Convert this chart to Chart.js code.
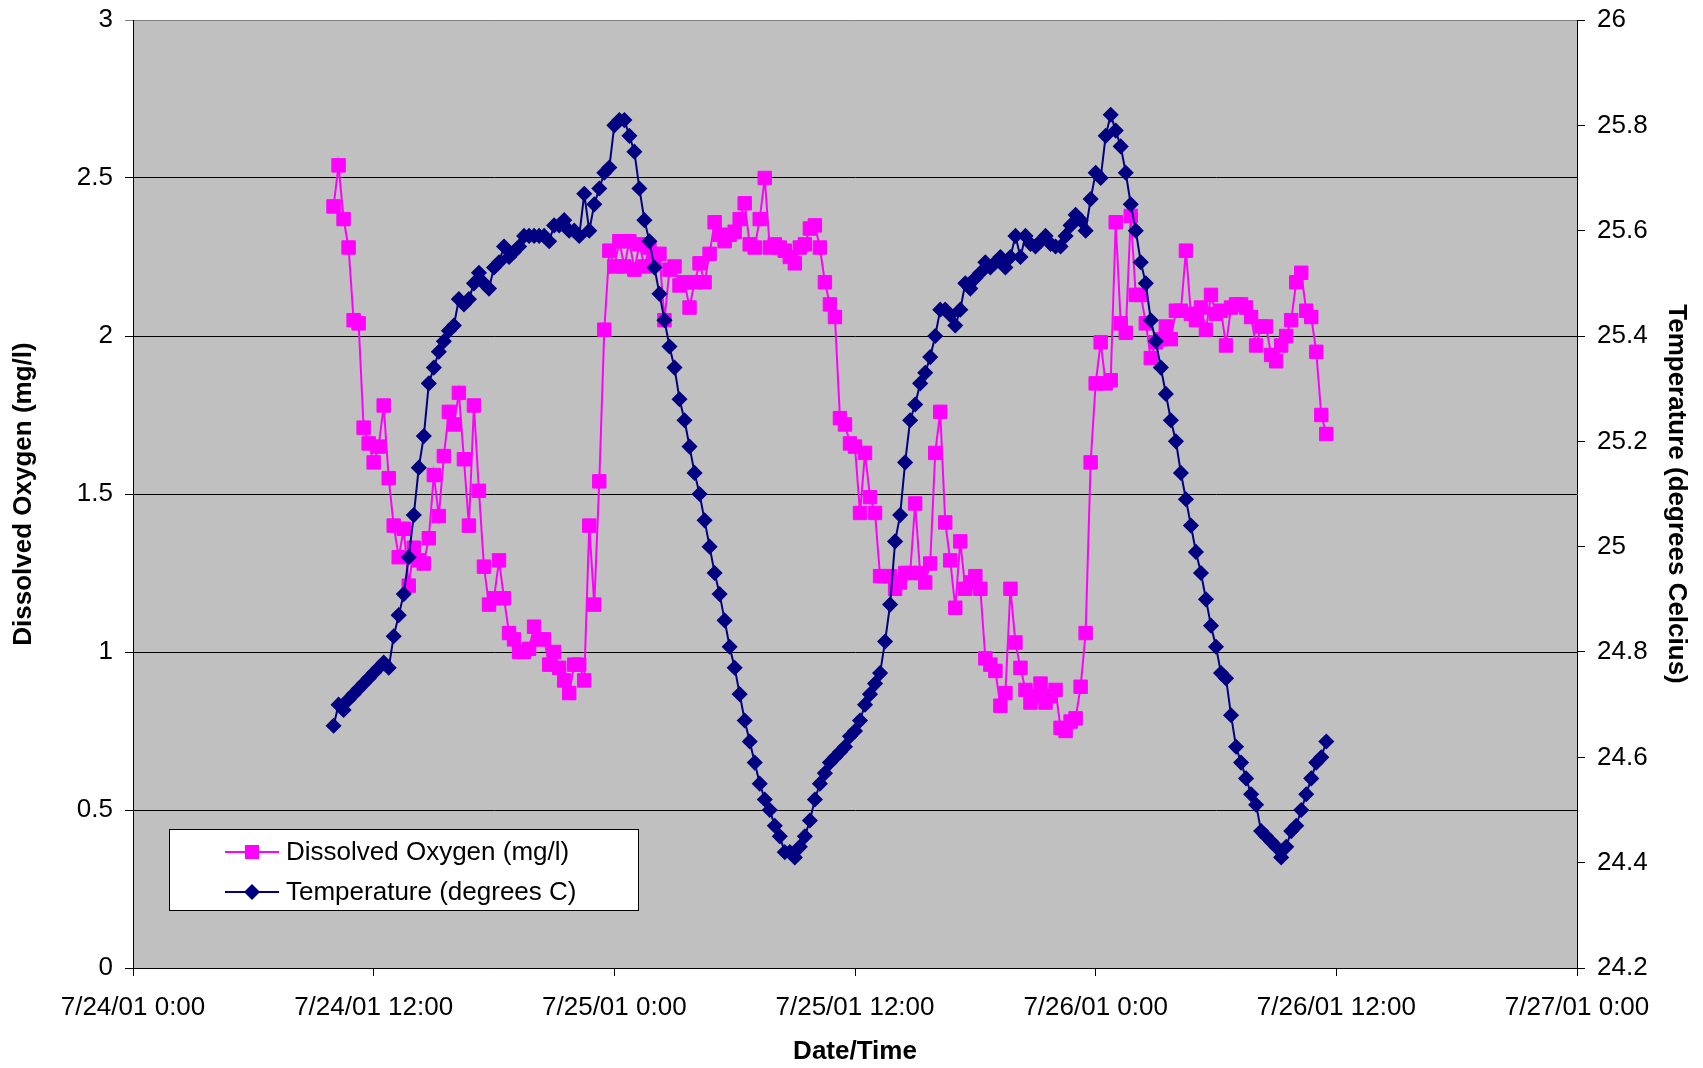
<!DOCTYPE html>
<html>
<head>
<meta charset="utf-8">
<title>Dissolved Oxygen and Temperature</title>
<script src="https://cdn.jsdelivr.net/npm/chart.js@4/dist/chart.umd.min.js"></script>
<style>
  html, body { margin: 0; padding: 0; background: #ffffff; }
  canvas { display: block; }
</style>
</head>
<body>
<canvas id="chart" width="1703" height="1068"></canvas>
<script>
// Logger readings: first reading 7/24/01 10:00, one reading every 15 minutes.
const firstReadingHour = 10;          // hours after 7/24/01 0:00
const readingStepHours = 0.25;

// Axis ticks
const xTickHours  = [0, 12, 24, 36, 48, 60, 72];
const xTickLabels = ['7/24/01 0:00', '7/24/01 12:00', '7/25/01 0:00', '7/25/01 12:00',
                     '7/26/01 0:00', '7/26/01 12:00', '7/27/01 0:00'];
const oxygenTicks      = [0, 0.5, 1, 1.5, 2, 2.5, 3];
const temperatureTicks = [24.2, 24.4, 24.6, 24.8, 25, 25.2, 25.4, 25.6, 25.8, 26];

// Dissolved oxygen (mg/l)
const dissolvedOxygen = [
  2.41, 2.54, 2.37, 2.28, 2.05, 2.04, 1.71, 1.66, 1.60, 1.65,
  1.78, 1.55, 1.40, 1.30, 1.39, 1.21, 1.33, 1.29, 1.28, 1.36,
  1.56, 1.43, 1.62, 1.76, 1.72, 1.82, 1.61, 1.40, 1.78, 1.51,
  1.27, 1.15, 1.17, 1.29, 1.17, 1.06, 1.04, 1.00, 1.00, 1.01,
  1.08, 1.04, 1.04, 0.96, 1.00, 0.95, 0.91, 0.87, 0.96, 0.96,
  0.91, 1.40, 1.15, 1.54, 2.02, 2.27, 2.22, 2.30, 2.22, 2.30,
  2.21, 2.29, 2.22, 2.28, 2.24, 2.26, 2.05, 2.21, 2.22, 2.16,
  2.17, 2.09, 2.17, 2.23, 2.17, 2.26, 2.36, 2.32, 2.30, 2.32,
  2.33, 2.37, 2.42, 2.29, 2.28, 2.37, 2.50, 2.28, 2.29, 2.28,
  2.27, 2.25, 2.23, 2.28, 2.29, 2.34, 2.35, 2.28, 2.17, 2.10,
  2.06, 1.74, 1.72, 1.66, 1.65, 1.44, 1.63, 1.49, 1.44, 1.24,
  1.24, 1.24, 1.20, 1.22, 1.25, 1.25, 1.47, 1.25, 1.22, 1.28,
  1.63, 1.76, 1.41, 1.29, 1.14, 1.35, 1.20, 1.22, 1.24, 1.20,
  0.98, 0.96, 0.94, 0.83, 0.87, 1.20, 1.03, 0.95, 0.88, 0.84,
  0.86, 0.90, 0.84, 0.86, 0.88, 0.76, 0.75, 0.78, 0.79, 0.89,
  1.06, 1.60, 1.85, 1.98, 1.85, 1.86, 2.36, 2.04, 2.01, 2.38,
  2.13, 2.13, 2.04, 1.93, 1.98, 1.99, 2.03, 1.99, 2.08, 2.08,
  2.27, 2.07, 2.05, 2.09, 2.02, 2.13, 2.07, 2.08, 1.97, 2.09,
  2.10, 2.10, 2.09, 2.06, 1.97, 2.03, 2.03, 1.94, 1.92, 1.97,
  2.00, 2.05, 2.17, 2.20, 2.08, 2.06, 1.95, 1.75, 1.69
];

// Water temperature (degrees C)
const temperature = [
  24.66, 24.70, 24.69, 24.71, 24.72, 24.73, 24.74, 24.75, 24.76, 24.77,
  24.78, 24.77, 24.83, 24.87, 24.91, 24.98, 25.06, 25.15, 25.21, 25.31,
  25.34, 25.37, 25.39, 25.41, 25.42, 25.47, 25.46, 25.47, 25.50, 25.52,
  25.50, 25.49, 25.53, 25.54, 25.57, 25.55, 25.56, 25.57, 25.59, 25.59,
  25.59, 25.59, 25.59, 25.58, 25.61, 25.61, 25.62, 25.60, 25.60, 25.59,
  25.67, 25.60, 25.65, 25.68, 25.71, 25.72, 25.80, 25.81, 25.81, 25.78,
  25.75, 25.68, 25.62, 25.58, 25.53, 25.48, 25.43, 25.38, 25.34, 25.28,
  25.24, 25.19, 25.14, 25.10, 25.05, 25.00, 24.95, 24.91, 24.86, 24.81,
  24.77, 24.72, 24.67, 24.63, 24.59, 24.55, 24.52, 24.50, 24.47, 24.45,
  24.42, 24.42, 24.41, 24.43, 24.45, 24.48, 24.52, 24.55, 24.57, 24.59,
  24.60, 24.61, 24.62, 24.64, 24.65, 24.67, 24.70, 24.72, 24.74, 24.76,
  24.82, 24.89, 25.01, 25.06, 25.16, 25.24, 25.27, 25.31, 25.33, 25.36,
  25.40, 25.45, 25.45, 25.44, 25.42, 25.45, 25.50, 25.49, 25.51, 25.52,
  25.54, 25.53, 25.54, 25.55, 25.53, 25.55, 25.59, 25.55, 25.59, 25.575,
  25.57, 25.58, 25.59, 25.575, 25.57, 25.57, 25.59, 25.61, 25.63, 25.62,
  25.60, 25.66, 25.71, 25.70, 25.78, 25.82, 25.79, 25.76, 25.71, 25.65,
  25.60, 25.54, 25.50, 25.43, 25.39, 25.34, 25.29, 25.24, 25.20, 25.14,
  25.09, 25.04, 24.99, 24.95, 24.90, 24.85, 24.81, 24.76, 24.75, 24.68,
  24.62, 24.59, 24.56, 24.53, 24.51, 24.46, 24.45, 24.44, 24.43, 24.41,
  24.43, 24.46, 24.47, 24.50, 24.53, 24.56, 24.59, 24.60, 24.63
];

const seriesNames = ['Dissolved Oxygen (mg/l)', 'Temperature (degrees C)'];
const oxygenColor = '#FF00FF';
const temperatureColor = '#000080';

const readingHour = i => firstReadingHour + i * readingStepHours;
const oxygenPoints = dissolvedOxygen.map((v, i) => ({ x: readingHour(i), y: v }));
const temperaturePoints = temperature.map((v, i) => ({ x: readingHour(i), y: v }));

// Grey plotting area behind grid and series
const plotBackground = {
  id: 'plotBackground',
  beforeDraw(chart) {
    const { ctx, chartArea: a } = chart;
    ctx.save();
    ctx.fillStyle = '#C0C0C0';
    ctx.fillRect(a.left, a.top, a.right - a.left, a.bottom - a.top);
    ctx.restore();
  }
};

// Boxed legend with line-and-marker samples, inside the plot area
const boxedLegend = {
  id: 'boxedLegend',
  afterDraw(chart) {
    const ctx = chart.ctx;
    const box = { x: 169.5, y: 829.5, w: 469, h: 81 };
    ctx.save();
    ctx.fillStyle = '#ffffff';
    ctx.fillRect(box.x, box.y, box.w, box.h);
    ctx.strokeStyle = '#000000';
    ctx.lineWidth = 1;
    ctx.strokeRect(box.x, box.y, box.w, box.h);

    const rows = [
      { y: 852, color: oxygenColor, marker: 'square', text: seriesNames[0] },
      { y: 892, color: temperatureColor, marker: 'diamond', text: seriesNames[1] }
    ];
    const x0 = 225, x1 = 279, xm = 252;
    rows.forEach(r => {
      ctx.strokeStyle = r.color;
      ctx.lineWidth = 2;
      ctx.beginPath();
      ctx.moveTo(x0, r.y);
      ctx.lineTo(x1, r.y);
      ctx.stroke();
      ctx.fillStyle = r.color;
      ctx.beginPath();
      if (r.marker === 'square') {
        ctx.rect(xm - 7, r.y - 7, 14, 14);
      } else {
        ctx.moveTo(xm - 8, r.y);
        ctx.lineTo(xm, r.y - 8);
        ctx.lineTo(xm + 8, r.y);
        ctx.lineTo(xm, r.y + 8);
        ctx.closePath();
      }
      ctx.fill();
      ctx.fillStyle = '#000000';
      ctx.font = "26px 'Liberation Sans', Arial, sans-serif";
      ctx.textAlign = 'left';
      ctx.textBaseline = 'middle';
      ctx.fillText(r.text, 286, r.y + 1);
    });
    ctx.restore();
  }
};

Chart.defaults.font.family = "'Liberation Sans', Arial, sans-serif";
Chart.defaults.font.size = 26;
Chart.defaults.color = '#000000';

// Fixed axis band sizes so the plot area sits at 133..1577 x 20..968
const fixVertical = width => s => { s.width = width; s.paddingTop = 0; s.paddingBottom = 0; };
const fixHorizontal = height => s => { s.height = height; s.paddingLeft = 0; s.paddingRight = 0; };

new Chart(document.getElementById('chart'), {
  type: 'line',
  data: {
    datasets: [
      {
        label: seriesNames[1],
        data: temperaturePoints,
        yAxisID: 'yTemp',
        borderColor: temperatureColor,
        backgroundColor: temperatureColor,
        borderWidth: 2,
        pointStyle: 'rectRot',
        pointRadius: 7,
        pointBorderWidth: 1.5,
        pointBackgroundColor: temperatureColor,
        pointBorderColor: temperatureColor,
        tension: 0,
        fill: false
      },
      {
        label: seriesNames[0],
        data: oxygenPoints,
        yAxisID: 'yDO',
        borderColor: oxygenColor,
        backgroundColor: oxygenColor,
        borderWidth: 2,
        pointStyle: 'rect',
        pointRadius: 9.5,
        pointBorderWidth: 1,
        pointBackgroundColor: oxygenColor,
        pointBorderColor: oxygenColor,
        tension: 0,
        fill: false
      }
    ]
  },
  options: {
    responsive: false,
    animation: false,
    devicePixelRatio: 1,
    layout: { padding: { top: 20, left: 0, right: 0, bottom: 0 } },
    plugins: {
      legend: { display: false },
      tooltip: { enabled: false },
      title: { display: false }
    },
    scales: {
      x: {
        type: 'linear',
        position: 'bottom',
        min: 0,
        max: 72,
        afterBuildTicks: s => { s.ticks = xTickHours.map(v => ({ value: v })); },
        afterFit: fixHorizontal(100),
        ticks: {
          autoSkip: false,
          maxRotation: 0,
          padding: 16,
          callback: (v, i) => xTickLabels[i]
        },
        grid: {
          drawOnChartArea: false,
          drawTicks: true,
          tickLength: 8,
          color: '#000000',
          lineWidth: 1
        },
        border: { display: true, color: '#000000', width: 1 },
        title: {
          display: true,
          text: 'Date/Time',
          font: { weight: 'bold', size: 26 },
          padding: { top: 0, bottom: 1 }
        }
      },
      yDO: {
        type: 'linear',
        position: 'left',
        min: 0,
        max: 3,
        afterBuildTicks: s => { s.ticks = oxygenTicks.map(v => ({ value: v })); },
        afterFit: fixVertical(133),
        ticks: {
          padding: 12,
          callback: v => String(v)
        },
        grid: {
          drawOnChartArea: true,
          drawTicks: true,
          tickLength: 8,
          lineWidth: 1,
          color: c => (c.tick && c.tick.value === 3) ? '#808080' : '#000000'
        },
        border: { display: true, color: '#000000', width: 1 },
        title: {
          display: true,
          text: 'Dissolved Oxygen (mg/l)',
          font: { weight: 'bold', size: 26 },
          padding: { top: 8, bottom: 0 }
        }
      },
      yTemp: {
        type: 'linear',
        position: 'right',
        min: 24.2,
        max: 26,
        afterBuildTicks: s => { s.ticks = temperatureTicks.map(v => ({ value: v })); },
        afterFit: fixVertical(126),
        ticks: {
          padding: 12,
          callback: v => String(Number(v.toFixed(1)))
        },
        grid: {
          drawOnChartArea: false,
          drawTicks: true,
          tickLength: 8,
          lineWidth: 1,
          color: '#000000'
        },
        border: { display: true, color: '#000000', width: 1 },
        title: {
          display: true,
          text: 'Temperature (degrees Celcius)',
          font: { weight: 'bold', size: 26 },
          padding: { top: 11, bottom: 0 }
        }
      }
    }
  },
  plugins: [plotBackground, boxedLegend]
});
</script>
</body>
</html>
